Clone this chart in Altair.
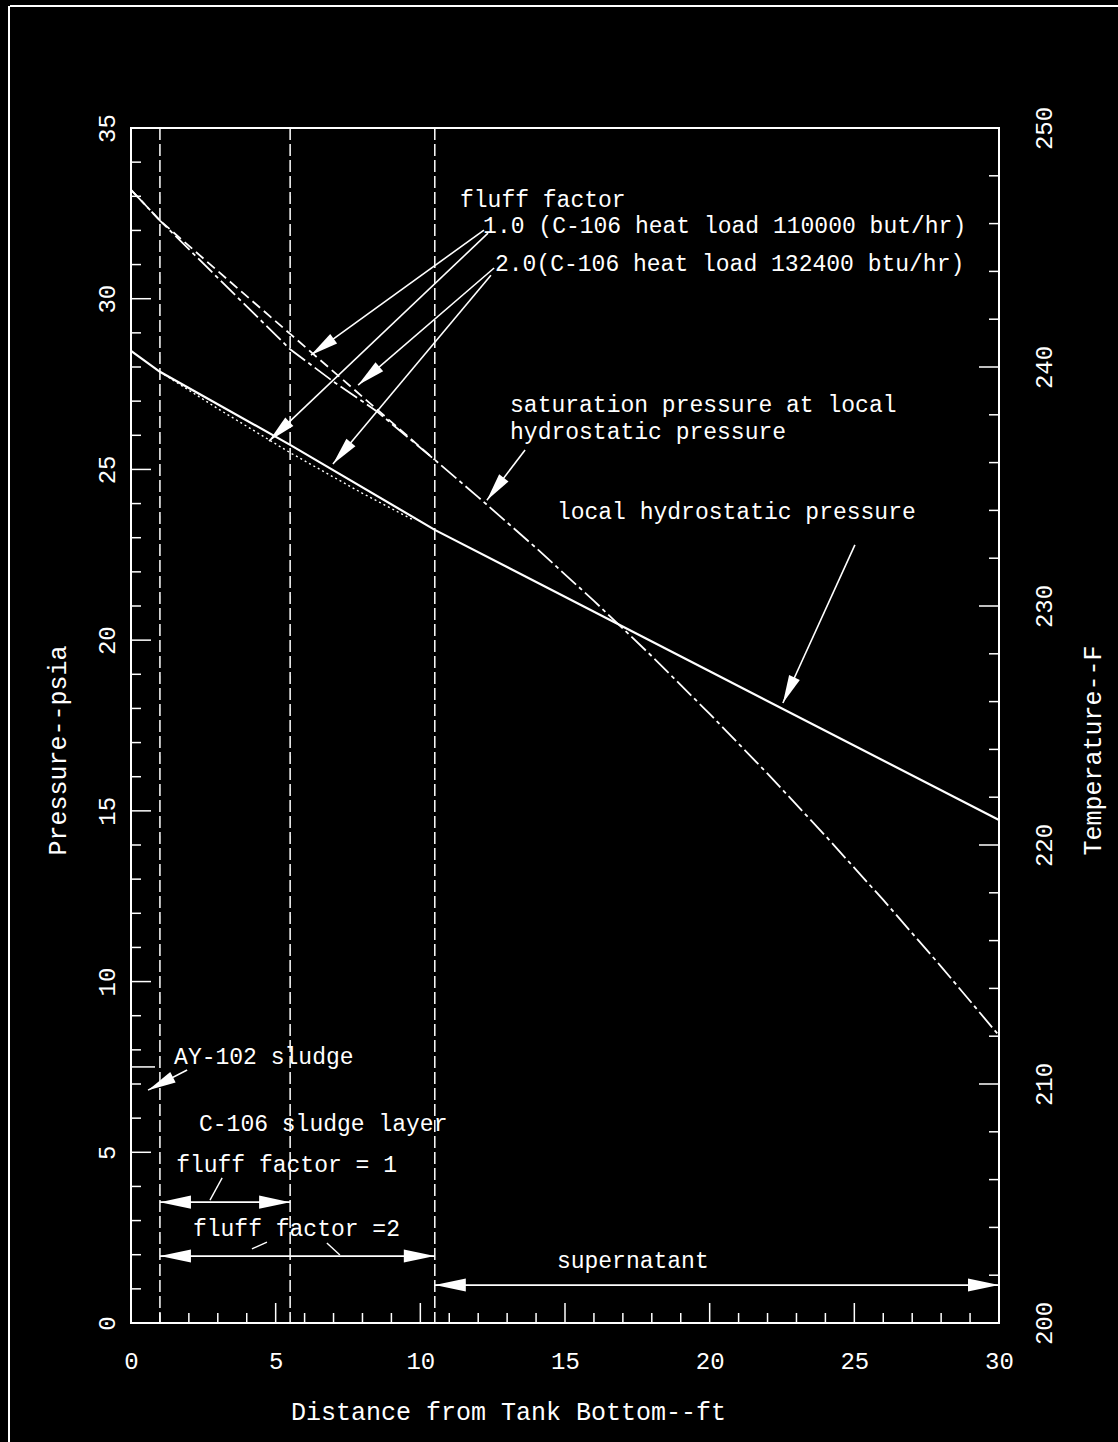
import math

import altair as alt
import pandas as pd

# Plot area size in pixels and axis ranges
W, H = 868, 1195
X_MAX, P_MAX = 30, 35
T_MIN, T_MAX = 200, 250
FONT = "Liberation Mono"

# Local hydrostatic pressure, fluff factor 1.0 (psia vs ft from tank bottom)
hydro_ft = [0, 1, 5.5, 10.5, 20, 30]
hydro_psia = [28.47, 27.86, 25.72, 23.23, 19.09, 14.73]

# Local hydrostatic pressure, fluff factor 2.0
hydro2_ft = [1, 3, 5.5, 8, 9.8]
hydro2_psia = [27.86, 26.78, 25.49, 24.30, 23.50]

# Saturation pressure at local temperature, fluff factor 1.0
sat1_ft = [0, 1, 3, 5.5, 8.5, 10.5]
sat1_psia = [33.19, 32.29, 30.81, 28.97, 26.76, 25.28]

# Saturation pressure at local temperature, fluff factor 2.0 (continues through supernatant)
sat2_ft = [0, 1, 3, 5.5, 7, 8.5, 10.5, 12, 14, 16, 18, 20, 22, 24, 26, 28, 30]
sat2_psia = [33.19, 32.29, 30.61, 28.52, 27.57, 26.70, 25.28, 24.19, 22.70,
             21.15, 19.53, 17.84, 16.09, 14.27, 12.39, 10.44, 8.42]

# Layer boundaries: AY-102 sludge top, C-106 sludge top (ff=1), C-106 sludge top (ff=2)
bound_ft = [1, 5.5, 10.5]

# AY-102 sludge level marker
ay_level_ft = [0, 0.83]
ay_level_psia = 7.5

# Annotation texts and their anchor points (ft, psia)
note_text = [
    "fluff factor",
    "1.0 (C-106 heat load 110000 but/hr)",
    "2.0(C-106 heat load 132400 btu/hr)",
    "saturation pressure at local",
    "hydrostatic pressure",
    "local hydrostatic pressure",
    "AY-102 sludge",
    "C-106 sludge layer",
    "fluff factor = 1",
    "fluff factor =2",
    "supernatant",
]
note_ft = [11.37, 12.17, 12.58, 13.10, 13.10, 14.72, 1.49, 2.35, 1.56, 2.14, 14.72]
note_psia = [32.89, 32.13, 31.02, 26.89, 26.10, 23.75, 7.79, 5.83, 4.63, 2.75, 1.82]

# Pointer arrows: tail -> head
arrow_from_ft = [12.20, 12.34, 12.55, 12.44, 13.62, 25.02, 1.94]
arrow_from_psia = [32.01, 31.92, 30.90, 30.69, 25.57, 22.79, 7.41]
arrow_to_ft = [6.22, 4.77, 7.85, 6.98, 12.30, 22.53, 0.59]
arrow_to_psia = [28.35, 25.83, 27.47, 25.16, 24.10, 18.16, 6.82]

# Double-headed span arrows: layer extents
span_psia = [3.54, 1.96, 1.11]
span_from_ft = [1, 1, 10.5]
span_to_ft = [5.5, 10.5, 30]

# Short leader strokes from labels to span arrows
leader_from_ft = [3.15, 4.70, 6.77]
leader_from_psia = [4.25, 2.37, 2.34]
leader_to_ft = [2.73, 4.18, 7.22]
leader_to_psia = [3.60, 2.17, 1.99]

# Tick positions
x_major = [5, 10, 15, 20, 25]
x_minor = [v for v in range(1, 30) if v % 5]
p_major = [5, 10, 15, 20, 25, 30]
p_minor = [v for v in range(1, 35) if v % 5]
t_major = [210, 220, 230, 240]
t_minor = [v for v in range(202, 250, 2) if v % 10]

xs = alt.Scale(domain=[0, X_MAX], nice=False, zero=False)
ps = alt.Scale(domain=[0, P_MAX], nice=False, zero=False)
ts = alt.Scale(domain=[T_MIN, T_MAX], nice=False, zero=False)

HEAD = "M0,0L0.42,2L-0.42,2Z"  # arrowhead with its tip at the origin


def head_angle(fx, fy, tx, ty):
    dx = (tx - fx) * W / X_MAX
    dy = -(ty - fy) * H / P_MAX
    return math.degrees(math.atan2(dx, -dy)) % 360


# Secondary layers leave the axis unspecified so they merge into the
# axes defined on the main curve.
def xq(field="x"):
    return alt.X(f"{field}:Q", scale=xs)


def yq(field="y"):
    return alt.Y(f"{field}:Q", scale=ps)


axis_style = dict(
    labelFont=FONT, titleFont=FONT, labelFontSize=24, titleFontSize=25,
    labelColor="white", titleColor="white", titleFontWeight="normal",
    labelFlush=False, labelOverlap=False, ticks=False, tickSize=0,
    domain=False, grid=False, titleAlign="center", titleBaseline="middle",
)
x_axis = alt.Axis(
    values=list(range(0, 31, 5)), title="Distance from Tank Bottom--ft",
    labelAngle=0, labelAlign="center", labelBaseline="top", labelPadding=26,
    titleX=377, titleY=88, titleAngle=0, **axis_style,
)
p_axis = alt.Axis(
    values=list(range(0, 36, 5)), title="Pressure--psia", orient="left",
    labelAngle=270, labelAlign="center", labelBaseline="bottom", labelPadding=12,
    titleAngle=270, titleX=-74, titleY=622, **axis_style,
)
t_axis = alt.Axis(
    values=list(range(200, 251, 10)), title="Temperature--F", orient="right",
    labelAngle=270, labelAlign="center", labelBaseline="top", labelPadding=33,
    titleAngle=270, titleX=93, titleY=622, **axis_style,
)

# --- curves ---
hydro = alt.Chart(pd.DataFrame({"x": hydro_ft, "y": hydro_psia})).mark_line(
    color="white", strokeWidth=2.2
).encode(
    x=alt.X("x:Q", scale=xs, axis=x_axis),
    y=alt.Y("y:Q", scale=ps, axis=p_axis),
)
hydro2 = alt.Chart(pd.DataFrame({"x": hydro2_ft, "y": hydro2_psia})).mark_line(
    color="white", strokeWidth=1.4, strokeDash=[2, 3]
).encode(x=xq(), y=yq())
sat1 = alt.Chart(pd.DataFrame({"x": sat1_ft, "y": sat1_psia})).mark_line(
    color="white", strokeWidth=1.8, strokeDash=[10, 5]
).encode(x=xq(), y=yq())
sat2 = alt.Chart(pd.DataFrame({"x": sat2_ft, "y": sat2_psia})).mark_line(
    color="white", strokeWidth=1.8, strokeDash=[20, 4, 4, 4]
).encode(x=xq(), y=yq())

bounds = alt.Chart(pd.DataFrame({"x": bound_ft})).mark_rule(
    color="white", strokeWidth=1.5, strokeDash=[12, 4]
).encode(x=xq(), y=alt.value(0), y2=alt.value(H))

ay_level = alt.Chart(pd.DataFrame({"x": [ay_level_ft[0]], "x2": [ay_level_ft[1]],
                                   "y": [ay_level_psia]})).mark_rule(
    color="white", strokeWidth=1.5
).encode(x=xq(), x2="x2:Q", y=yq())

# --- annotations ---
notes = alt.Chart(pd.DataFrame({"x": note_ft, "y": note_psia, "t": note_text})).mark_text(
    align="left", baseline="middle", font=FONT, fontSize=23, color="white"
).encode(x=xq(), y=yq(), text="t:N")

arrows = pd.DataFrame({"fx": arrow_from_ft, "fy": arrow_from_psia,
                       "tx": arrow_to_ft, "ty": arrow_to_psia})
arrows["ang"] = [head_angle(*r) for r in arrows[["fx", "fy", "tx", "ty"]].values]
arrow_shafts = alt.Chart(arrows).mark_rule(color="white", strokeWidth=1.6).encode(
    x=xq("fx"), y=yq("fy"), x2="tx:Q", y2="ty:Q"
)
arrow_heads = alt.Chart(arrows).mark_point(
    shape=HEAD, filled=True, size=784, color="white", opacity=1, strokeWidth=0
).encode(x=xq("tx"), y=yq("ty"), angle=alt.Angle("ang:Q", scale=None))

spans = pd.DataFrame({"y": span_psia, "a": span_from_ft, "b": span_to_ft})
span_lines = alt.Chart(spans).mark_rule(color="white", strokeWidth=1.6).encode(
    x=xq("a"), x2="b:Q", y=yq()
)
span_ends = pd.DataFrame({
    "x": span_from_ft + span_to_ft,
    "y": span_psia + span_psia,
    "ang": [270] * len(span_psia) + [90] * len(span_psia),
})
span_heads = alt.Chart(span_ends).mark_point(
    shape=HEAD, filled=True, size=961, color="white", opacity=1, strokeWidth=0
).encode(x=xq(), y=yq(), angle=alt.Angle("ang:Q", scale=None))

leaders = alt.Chart(pd.DataFrame({"fx": leader_from_ft, "fy": leader_from_psia,
                                  "tx": leader_to_ft, "ty": leader_to_psia})).mark_rule(
    color="white", strokeWidth=1.4
).encode(x=xq("fx"), y=yq("fy"), x2="tx:Q", y2="ty:Q")

# --- inward ticks on the bottom and left axes ---
bx_major = alt.Chart(pd.DataFrame({"x": x_major})).mark_rule(color="white", strokeWidth=1.5).encode(
    x=xq(), y=alt.value(H), y2=alt.value(H - 20))
bx_minor = alt.Chart(pd.DataFrame({"x": x_minor})).mark_rule(color="white", strokeWidth=1.5).encode(
    x=xq(), y=alt.value(H), y2=alt.value(H - 10))
ly_major = alt.Chart(pd.DataFrame({"y": p_major})).mark_rule(color="white", strokeWidth=1.5).encode(
    y=yq(), x=alt.value(0), x2=alt.value(20))
ly_minor = alt.Chart(pd.DataFrame({"y": p_minor})).mark_rule(color="white", strokeWidth=1.5).encode(
    y=yq(), x=alt.value(0), x2=alt.value(10))

# --- page border along the top and left edges ---
one = pd.DataFrame({"k": [0]})
border_top = alt.Chart(one).mark_rule(color="white", strokeWidth=2).encode(
    x=alt.value(-121), x2=alt.value(W + 119), y=alt.value(-122))
border_left = alt.Chart(one).mark_rule(color="white", strokeWidth=2).encode(
    x=alt.value(-122), y=alt.value(-122), y2=alt.value(H + 119))

pressure_side = alt.layer(
    hydro, hydro2, sat1, sat2, bounds, ay_level,
    arrow_shafts, arrow_heads, span_lines, span_heads, leaders, notes,
    bx_major, bx_minor, ly_major, ly_minor, border_top, border_left,
)

# --- temperature axis on the right with inward ticks ---
ry_major = alt.Chart(pd.DataFrame({"t": t_major})).mark_rule(color="white", strokeWidth=1.5).encode(
    y=alt.Y("t:Q", scale=ts, axis=t_axis), x=alt.value(W - 20), x2=alt.value(W))
ry_minor = alt.Chart(pd.DataFrame({"t": t_minor})).mark_rule(color="white", strokeWidth=1.5).encode(
    y=alt.Y("t:Q", scale=ts), x=alt.value(W - 10), x2=alt.value(W))
temperature_side = alt.layer(ry_major, ry_minor)

chart = alt.layer(pressure_side, temperature_side).resolve_scale(
    y="independent"
).properties(
    width=W, height=H,
    autosize=alt.AutoSizeParams(type="none"),
    padding={"left": 131, "top": 128, "right": 119, "bottom": 119},
    background="black",
).configure_view(
    stroke="white", strokeWidth=2
)

chart.save("out.html", embed_options={"renderer": "svg", "actions": False})
